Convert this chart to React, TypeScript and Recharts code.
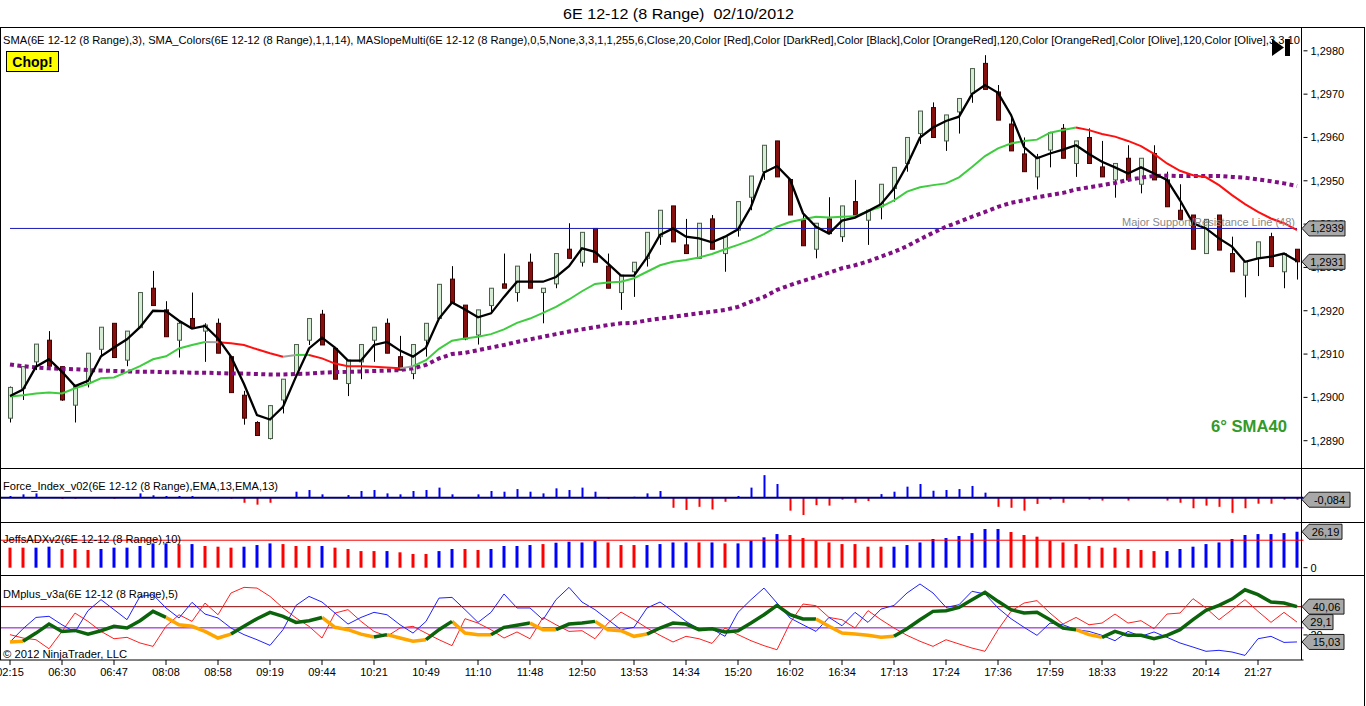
import React from 'react'
import { ComposedChart, Bar, Line, XAxis, YAxis, ReferenceLine, Cell } from 'recharts'

// ---- price bars (8 range, 6E 12-12) ----
const openPx = [
  1.28952, 1.29021, 1.29082, 1.29132, 1.29071, 1.28982, 1.29032, 1.29111, 1.29171, 1.29086,
  1.29161, 1.29252, 1.29202, 1.29132, 1.29182, 1.29153, 1.29171, 1.29094, 1.29005, 1.28942,
  1.28905, 1.28994, 1.29052, 1.29132, 1.29192, 1.29113, 1.29032, 1.29082, 1.29132, 1.29171,
  1.29094, 1.29055, 1.29132, 1.29182, 1.29273, 1.29213, 1.29144, 1.29212, 1.29262, 1.29242,
  1.29312, 1.29242, 1.29262, 1.29342, 1.29312, 1.2939, 1.29303, 1.29242, 1.2929, 1.29321,
  1.29371, 1.29442, 1.29352, 1.29321, 1.29412, 1.29332, 1.29386, 1.29462, 1.29521, 1.29592,
  1.29503, 1.29409, 1.29342, 1.29412, 1.29371, 1.29452, 1.29409, 1.2944, 1.29482, 1.2954,
  1.29609, 1.29669, 1.29592, 1.29659, 1.29702, 1.29771, 1.29705, 1.29631, 1.29562, 1.29509,
  1.29571, 1.29621, 1.2954, 1.296, 1.29532, 1.29502, 1.29552, 1.29492, 1.29563, 1.29502,
  1.29432, 1.29421, 1.29332, 1.29421, 1.29332, 1.29282, 1.29321, 1.29371, 1.2929, 1.29342,
]
const highPx = [
  1.29025, 1.29072, 1.29123, 1.29153, 1.29072, 1.29025, 1.29102, 1.29162, 1.29171, 1.29153,
  1.29242, 1.29292, 1.29222, 1.29175, 1.29242, 1.29171, 1.29182, 1.29094, 1.29015, 1.28945,
  1.28982, 1.29042, 1.29122, 1.29182, 1.29202, 1.29113, 1.29086, 1.29122, 1.29162, 1.29182,
  1.29142, 1.29122, 1.29171, 1.29261, 1.29303, 1.29213, 1.29202, 1.29252, 1.29332, 1.29303,
  1.29332, 1.29252, 1.29332, 1.29402, 1.29381, 1.2939, 1.29332, 1.29282, 1.29312, 1.29381,
  1.29432, 1.29442, 1.29412, 1.29402, 1.29421, 1.29371, 1.29452, 1.29511, 1.29582, 1.29592,
  1.29503, 1.29421, 1.29402, 1.29462, 1.29442, 1.29502, 1.29432, 1.29492, 1.29531, 1.296,
  1.29661, 1.29681, 1.29652, 1.2969, 1.29759, 1.2979, 1.29721, 1.29652, 1.296, 1.29562,
  1.29613, 1.29631, 1.29592, 1.29621, 1.29592, 1.2954, 1.29582, 1.29552, 1.29582, 1.29521,
  1.29492, 1.29421, 1.29411, 1.29421, 1.29371, 1.29313, 1.29359, 1.2938, 1.29332, 1.29342,
]
const lowPx = [
  1.28942, 1.28994, 1.29063, 1.29071, 1.28992, 1.28942, 1.29023, 1.29094, 1.29092, 1.29072,
  1.29161, 1.29212, 1.2914, 1.29092, 1.29159, 1.29082, 1.29102, 1.29011, 1.28937, 1.28911,
  1.28903, 1.28963, 1.29052, 1.29121, 1.29121, 1.29042, 1.29003, 1.29042, 1.29082, 1.29102,
  1.29063, 1.29042, 1.29094, 1.29182, 1.29217, 1.29132, 1.29122, 1.29194, 1.29252, 1.29221,
  1.29252, 1.29171, 1.29252, 1.29321, 1.29302, 1.29312, 1.29252, 1.29202, 1.29232, 1.29302,
  1.29352, 1.29359, 1.29332, 1.29321, 1.29342, 1.2929, 1.29371, 1.29432, 1.29502, 1.29509,
  1.29421, 1.2935, 1.29321, 1.29378, 1.29359, 1.29421, 1.29352, 1.29411, 1.29452, 1.29521,
  1.29585, 1.296, 1.29569, 1.29609, 1.2968, 1.29711, 1.2964, 1.29569, 1.29521, 1.2948,
  1.29531, 1.29552, 1.29509, 1.2954, 1.29509, 1.29461, 1.29502, 1.29471, 1.29502, 1.2944,
  1.29411, 1.29342, 1.29332, 1.2934, 1.2929, 1.29231, 1.2928, 1.29302, 1.29252, 1.29272,
]
const closePx = [
  1.29023, 1.29071, 1.29123, 1.29072, 1.28994, 1.29025, 1.29102, 1.29162, 1.29092, 1.29153,
  1.29242, 1.29212, 1.2914, 1.29171, 1.29159, 1.29167, 1.29102, 1.29011, 1.28952, 1.28912,
  1.28981, 1.29042, 1.29122, 1.29182, 1.29121, 1.29042, 1.29086, 1.29122, 1.29162, 1.29102,
  1.29063, 1.29122, 1.29171, 1.29261, 1.29219, 1.29135, 1.29202, 1.29252, 1.29252, 1.29303,
  1.29252, 1.29252, 1.29332, 1.29321, 1.29381, 1.29312, 1.29252, 1.29282, 1.29312, 1.29381,
  1.29432, 1.29359, 1.29332, 1.29402, 1.29342, 1.29371, 1.29452, 1.29511, 1.29582, 1.29509,
  1.29421, 1.2935, 1.29402, 1.29378, 1.29442, 1.29421, 1.29432, 1.29492, 1.29531, 1.296,
  1.29661, 1.296, 1.29652, 1.2969, 1.29759, 1.29711, 1.2964, 1.29569, 1.29521, 1.29555,
  1.29611, 1.29552, 1.29592, 1.2954, 1.29509, 1.2954, 1.29502, 1.29552, 1.29502, 1.2944,
  1.29411, 1.29342, 1.29411, 1.2934, 1.2929, 1.29313, 1.29359, 1.29302, 1.29332, 1.29313,
]

// ---- moving averages on the price panel ----
const sma3 = [
  1.29003, 1.29018, 1.29071, 1.29088, 1.29059, 1.29026, 1.29038, 1.29095, 1.29115, 1.29134,
  1.29162, 1.292, 1.29199, 1.29177, 1.29159, 1.29165, 1.29136, 1.29094, 1.29031, 1.28959,
  1.28949, 1.28978, 1.29048, 1.29113, 1.29138, 1.29115, 1.29085, 1.29085, 1.29121, 1.29128,
  1.29108, 1.29094, 1.29115, 1.29182, 1.29219, 1.29203, 1.29185, 1.29194, 1.29232, 1.29267,
  1.29267, 1.29267, 1.29278, 1.29303, 1.29344, 1.29336, 1.29309, 1.29281, 1.29281, 1.29323,
  1.29375, 1.2939, 1.29371, 1.29367, 1.29358, 1.29371, 1.29388, 1.2944, 1.29519, 1.29534,
  1.29503, 1.29425, 1.29394, 1.29378, 1.29408, 1.29415, 1.2943, 1.29446, 1.29482, 1.29536,
  1.296, 1.29623, 1.29638, 1.29648, 1.297, 1.29721, 1.29703, 1.29652, 1.29578, 1.29552,
  1.29563, 1.29572, 1.29582, 1.29562, 1.29544, 1.29531, 1.29517, 1.29531, 1.29517, 1.29502,
  1.29455, 1.29402, 1.2939, 1.29367, 1.29348, 1.29313, 1.29321, 1.29325, 1.29332, 1.29315,
]
const sma14 = [
  1.29002, 1.29005, 1.29009, 1.29011, 1.29009, 1.29021, 1.29031, 1.29044, 1.29046, 1.29059,
  1.29072, 1.29088, 1.29095, 1.29113, 1.29121, 1.29128, 1.29127, 1.29125, 1.29121, 1.29111,
  1.29102, 1.29094, 1.29098, 1.29098, 1.2909, 1.29078, 1.29072, 1.29072, 1.29071, 1.29069,
  1.29067, 1.29072, 1.29086, 1.29112, 1.29131, 1.29136, 1.2914, 1.29146, 1.29157, 1.29172,
  1.29182, 1.29195, 1.29209, 1.29226, 1.29245, 1.29262, 1.29265, 1.29267, 1.29275, 1.2929,
  1.29305, 1.29313, 1.29317, 1.29323, 1.29331, 1.29342, 1.29352, 1.29363, 1.29377, 1.29394,
  1.29405, 1.29411, 1.29417, 1.29415, 1.29417, 1.29418, 1.2943, 1.2944, 1.29455, 1.29475,
  1.29485, 1.2949, 1.29494, 1.29508, 1.29532, 1.29557, 1.29575, 1.29586, 1.29592, 1.29595,
  1.29611, 1.29617, 1.29623, 1.29617, 1.29608, 1.29602, 1.29592, 1.2958, 1.29562, 1.2954,
  1.29523, 1.29513, 1.29508, 1.2949, 1.29467, 1.29446, 1.29428, 1.29413, 1.29402, 1.29386,
]
// colour runs of the SMA14 line: g rising, r falling, n flat
const sma14Runs: [string, number][] = [['g', 16], ['n', 1], ['r', 5], ['n', 1], ['g', 1], ['r', 7], ['n', 1], ['g', 51], ['r', 17]]
const sma40 = [
  1.29076, 1.29072, 1.29069, 1.29067, 1.29066, 1.29065, 1.29063, 1.29062, 1.29061, 1.2906,
  1.29059, 1.29059, 1.29058, 1.29058, 1.29057, 1.29057, 1.29056, 1.29055, 1.29055, 1.29054,
  1.29053, 1.29053, 1.29054, 1.29055, 1.29057, 1.29058, 1.29059, 1.2906, 1.29061, 1.29062,
  1.29063, 1.29067, 1.29075, 1.2909, 1.291, 1.29103, 1.29109, 1.29115, 1.29121, 1.29128,
  1.29134, 1.2914, 1.29146, 1.29152, 1.29157, 1.29162, 1.29167, 1.29171, 1.29172, 1.29178,
  1.29182, 1.29186, 1.2919, 1.29194, 1.29198, 1.29202, 1.29209, 1.29221, 1.29232, 1.29248,
  1.29259, 1.29269, 1.29278, 1.29288, 1.29298, 1.29305, 1.29314, 1.29325, 1.29336, 1.29349,
  1.29365, 1.2938, 1.29394, 1.29405, 1.29417, 1.29428, 1.2944, 1.29449, 1.29455, 1.29462,
  1.29467, 1.29472, 1.2948, 1.29485, 1.2949, 1.29495, 1.29502, 1.29507, 1.29511, 1.29512,
  1.29511, 1.29511, 1.29511, 1.29511, 1.29509, 1.29507, 1.29503, 1.29499, 1.29494, 1.29488,
]
const supportLevel = 1.2939
const priceTicks = [1.289, 1.29, 1.291, 1.292, 1.293, 1.294, 1.295, 1.296, 1.297, 1.298]

// ---- Force_Index_v02 ----
const forceIdx = [
  0.07, 0.14, 0.18, 0.02, -0.05, -0.04, 0.01, 0.01, -0.04, 0.02,
  0.18, 0.1, 0.07, 0.07, 0.07, 0.02, 0.01, -0.04, -0.21, -0.29,
  -0.21, 0.01, 0.25, 0.32, 0.14, 0.02, 0.11, 0.28, 0.32, 0.18,
  0.14, 0.28, 0.32, 0.42, 0.14, 0.02, 0.14, 0.28, 0.25, 0.36,
  0.25, 0.18, 0.39, 0.32, 0.42, 0.25, -0.05, 0.01, 0.04, 0.18,
  0.28, -0.42, -0.51, -0.38, -0.49, -0.17, 0.07, 0.42, 0.94, 0.57,
  -0.54, -0.72, -0.31, -0.33, -0.08, -0.21, -0.14, 0.15, 0.25, 0.46,
  0.57, 0.29, 0.32, 0.36, 0.49, 0.21, -0.38, -0.42, -0.54, -0.26,
  -0.08, -0.21, -0.01, -0.08, -0.12, -0.01, -0.12, 0.005, -0.01, -0.12,
  -0.21, -0.44, -0.33, -0.38, -0.63, -0.44, -0.25, -0.25, -0.08, -0.084,
]

// ---- JeffsADXv2 ----
const adxVal = [
  14.6, 14.6, 14.6, 15.3, 13.6, 13.6, 12.9, 13.6, 14.6, 14.6,
  15.8, 17.7, 17.7, 17.0, 17.2, 15.8, 15.3, 14.6, 15.3, 16.5,
  17.7, 17.2, 15.8, 15.8, 15.8, 14.6, 13.6, 12.1, 12.1, 12.1,
  11.2, 10.0, 10.0, 12.1, 13.6, 13.6, 12.9, 13.6, 15.8, 15.8,
  16.5, 17.2, 18.2, 18.9, 18.4, 19.4, 18.4, 16.5, 16.5, 16.5,
  17.2, 18.4, 18.4, 18.4, 18.4, 17.7, 17.7, 19.7, 22.1, 24.5,
  23.8, 21.6, 19.7, 18.4, 17.2, 17.2, 15.3, 15.3, 15.3, 16.5,
  18.4, 20.9, 21.6, 23.1, 25.2, 28.2, 28.2, 26.0, 23.8, 22.6,
  19.7, 18.4, 17.2, 15.8, 14.6, 14.6, 13.6, 12.9, 12.1, 12.1,
  13.6, 15.3, 17.2, 18.4, 20.9, 23.8, 24.5, 24.5, 25.2, 26.19,
]
const adxRuns: [string, number][] = [
  ['r', 2], ['b', 2], ['r', 3], ['b', 6], ['r', 1], ['b', 1], ['r', 3], ['b', 3], ['r', 3], ['b', 1],
  ['r', 4], ['b', 1], ['r', 3], ['b', 2], ['r', 2], ['b', 4], ['r', 1], ['b', 4], ['r', 3], ['b', 4],
  ['r', 1], ['b', 1], ['r', 1], ['b', 4], ['r', 8], ['b', 9], ['r', 12], ['b', 11],
]

// ---- DMplus_v3a ----
const diPlus = [
  15.0, 24.4, 32.4, 33.2, 27.2, 22.1, 37.2, 45.0, 37.9, 30.8,
  47.3, 48.5, 39.1, 32.0, 43.1, 34.8, 32.0, 24.9, 20.2, 16.6,
  12.6, 23.7, 40.9, 47.3, 43.3, 35.5, 27.7, 32.4, 36.0, 34.3,
  27.2, 21.3, 29.6, 46.1, 46.6, 37.9, 28.9, 36.0, 49.0, 39.1,
  39.1, 30.8, 45.0, 53.7, 43.3, 37.9, 30.8, 23.7, 25.4, 39.1,
  43.3, 36.7, 29.6, 24.2, 24.2, 19.0, 36.0, 45.0, 53.2, 42.6,
  32.0, 27.2, 22.5, 32.4, 26.5, 36.0, 28.9, 38.3, 40.9, 49.7,
  56.1, 49.7, 39.5, 41.4, 50.9, 49.0, 39.1, 31.5, 25.4, 19.7,
  28.4, 27.2, 23.7, 22.5, 19.7, 15.9, 22.5, 19.0, 22.1, 18.3,
  14.3, 11.4, 8.4, 9.1, 7.9, 5.5, 17.3, 19.0, 14.7, 15.03,
]
const diMinus = [
  20.2, 17.8, 16.6, 10.2, 22.5, 35.5, 29.6, 22.5, 17.3, 18.3,
  14.3, 11.9, 26.1, 34.3, 29.6, 42.6, 34.3, 49.7, 53.7, 53.2,
  47.3, 39.1, 32.0, 26.1, 17.8, 35.5, 37.9, 29.6, 22.5, 19.0,
  24.9, 26.1, 21.3, 16.6, 12.4, 31.5, 28.4, 23.7, 17.8, 22.1,
  17.3, 32.4, 27.2, 22.5, 23.0, 17.3, 28.4, 36.2, 30.8, 24.9,
  19.7, 15.0, 19.0, 17.3, 14.0, 24.9, 20.2, 15.9, 12.4, 9.5,
  28.4, 41.9, 40.7, 32.4, 30.8, 24.9, 37.2, 30.8, 24.9, 19.7,
  15.5, 11.9, 16.6, 13.6, 10.7, 8.4, 23.7, 36.7, 42.6, 44.3,
  35.5, 27.7, 32.4, 27.2, 28.4, 34.8, 28.4, 30.1, 24.4, 34.8,
  35.5, 45.7, 39.1, 30.8, 37.9, 45.0, 36.7, 28.9, 36.0, 29.1,
]
const dmLine = [
  15.0, 15.5, 21.3, 27.7, 22.5, 23.2, 20.6, 23.0, 26.1, 24.9,
  30.1, 36.7, 32.4, 27.2, 26.1, 22.5, 17.8, 20.6, 26.1, 31.5,
  36.0, 33.2, 28.9, 30.1, 32.4, 25.4, 23.7, 20.6, 18.5, 20.2,
  17.8, 15.5, 16.6, 23.7, 29.6, 21.3, 20.2, 20.2, 25.4, 26.8,
  28.4, 23.7, 23.7, 27.7, 28.4, 29.6, 23.7, 23.0, 19.0, 20.6,
  24.9, 28.4, 27.7, 23.7, 24.4, 22.1, 23.0, 28.4, 34.3, 40.9,
  34.3, 31.3, 31.3, 26.1, 21.3, 20.6, 19.7, 18.3, 19.0, 24.4,
  30.8, 36.7, 37.2, 39.5, 45.0, 50.2, 43.8, 37.9, 35.5, 36.0,
  30.8, 24.9, 23.7, 20.2, 18.3, 22.5, 19.7, 19.7, 17.3, 19.7,
  23.7, 30.8, 37.4, 40.9, 45.4, 52.0, 48.5, 43.3, 42.6, 40.06,
]
const dmRuns: [string, number][] = [
  ['o', 2], ['g', 11], ['o', 5], ['g', 7], ['o', 4], ['g', 1], ['o', 3], ['g', 2], ['o', 3], ['g', 3],
  ['o', 2], ['g', 3], ['o', 4], ['g', 13], ['o', 6], ['g', 14], ['o', 2], ['g', 15],
]

// ---- time axis ----
const tickBars = [0, 4, 8, 12, 16, 20, 24, 28, 32, 36, 40, 44, 48, 52, 56, 60, 64, 68, 72, 76, 80, 84, 88, 92, 96]
const tickTimes = [
  '02:15', '06:30', '06:47', '08:08', '08:58', '09:19', '09:44', '10:21', '10:49', '11:10', '11:48', '12:50', '13:53',
  '14:34', '15:20', '16:02', '16:34', '17:13', '17:24', '17:36', '17:59', '18:33', '19:22', '20:14', '21:27',
]

const FONT = 'Arial, "Liberation Sans", sans-serif'
const AXIS_W = 62.5
const PAD = { left: 3.5, right: 0 }
const NOMARGIN = { top: 0, right: 0, bottom: 0, left: 0 }

const PRICE_DOMAIN: [number, number] = [1.28837, 1.29855]
const FORCE_DOMAIN: [number, number] = [-1.0125, 1.2375]
const ADX_DOMAIN: [number, number] = [-5.32, 33.28]
const DM_DOMAIN: [number, number] = [2.24, 62.46]

function expand(runs: [string, number][]) {
  const out: string[] = []
  runs.forEach(([c, n]) => {
    for (let k = 0; k < n; k++) out.push(c)
  })
  return out
}

// tone[k] is the colour of the segment k-1 -> k; alternate runs of one colour go to
// separate series so neighbouring runs never get joined by a wrong-coloured stroke
function splitSegments(vals: number[], tone: string[]) {
  const series: Record<string, (number | null)[]> = {}
  const runNo: Record<string, number> = {}
  for (let k = 1; k < vals.length; k++) {
    const c = tone[k]
    if (k === 1 || tone[k] !== tone[k - 1]) runNo[c] = (runNo[c] ?? -1) + 1
    const key = c + (runNo[c] % 2)
    if (!series[key]) series[key] = vals.map(() => null)
    series[key][k - 1] = vals[k - 1]
    series[key][k] = vals[k]
  }
  return series
}

const smaSeries = splitSegments(sma14, expand(sma14Runs))
const dmSeries = splitSegments(dmLine, expand(dmRuns))
const adxTone = expand(adxRuns)

const smaColour: Record<string, string> = { g: '#3fcd3f', r: '#ff1010', n: '#a0a0a0' }
const dmColour: Record<string, string> = { g: '#0b640b', o: '#ffa500' }

const rows = openPx.map((o, i) => {
  const row: Record<string, any> = {
    idx: i,
    range: [lowPx[i], highPx[i]],
    open: o,
    high: highPx[i],
    low: lowPx[i],
    close: closePx[i],
    sma3: sma3[i],
    sma40: sma40[i],
    force: forceIdx[i],
    adx: adxVal[i],
    diPlus: diPlus[i],
    diMinus: diMinus[i],
  }
  Object.keys(smaSeries).forEach((k) => (row[`s14_${k}`] = smaSeries[k][i]))
  Object.keys(dmSeries).forEach((k) => (row[`dm_${k}`] = dmSeries[k][i]))
  return row
})

const last = rows.length - 1
const comma = (s: string) => s.replace('.', ',')

function Candle(props: any) {
  const { x, y, width, height, payload } = props
  if (!payload || height == null) return null
  const { open, high, low, close } = payload
  const span = high - low || 1e-9
  const at = (v: number) => y + ((high - v) / span) * height
  const cx = Math.round(x + width / 2) + 0.5
  const up = close >= open
  const top = at(Math.max(open, close))
  const bot = at(Math.min(open, close))
  return (
    <g>
      <line x1={cx} x2={cx} y1={y} y2={y + height} stroke="#000" strokeWidth={1} />
      <rect
        x={cx - 2}
        y={top}
        width={4}
        height={Math.max(bot - top, 1)}
        fill={up ? '#d6ecd4' : '#85100e'}
        stroke={up ? '#4c5f4c' : '#420000'}
        strokeWidth={1}
      />
    </g>
  )
}

function Tag(props: any) {
  const { viewBox, text, w } = props
  if (!viewBox) return null
  const tip = viewBox.x + viewBox.width - 1.5
  const cy = viewBox.y
  const h = 15
  const body = tip + 7
  return (
    <g>
      <polygon
        points={`${tip},${cy} ${body},${cy - h / 2} ${body + w},${cy - h / 2} ${body + w},${cy + h / 2} ${body},${cy + h / 2}`}
        fill="#a8a8a8"
        stroke="#1c1c1c"
        strokeWidth={1}
      />
      <text x={body + w / 2} y={cy + 4} textAnchor="middle" fontSize={11} fill="#000" fontFamily={FONT}>
        {text}
      </text>
    </g>
  )
}

type TagSpec = { y: number; text: string; w: number }

// value tags sit on top of the axis labels, so they get their own chart layer above each panel
function TagLayer({ top, height, domain, tags }: { top: number; height: number; domain: [number, number]; tags: TagSpec[] }) {
  return (
    <div style={{ position: 'absolute', left: 0, top }}>
      <ComposedChart width={1366} height={height} data={rows} margin={NOMARGIN}>
        <XAxis dataKey="idx" type="category" scale="band" hide padding={PAD} />
        <YAxis orientation="right" type="number" width={AXIS_W} domain={domain} allowDataOverflow tick={false} tickLine={false} axisLine={false} />
        {tags.map((t, i) => (
          <ReferenceLine key={i} y={t.y} stroke="none" label={<Tag text={t.text} w={t.w} />} />
        ))}
      </ComposedChart>
    </div>
  )
}

const tickStyle = { fontSize: 11, fill: '#000' }

function hiddenX() {
  return <XAxis dataKey="idx" type="category" scale="band" hide padding={PAD} />
}

export default function App() {
  return (
    <div
      style={{
        position: 'absolute',
        left: 0,
        top: 0,
        width: 1366,
        height: 706,
        background: '#fff',
        fontFamily: FONT,
        overflow: 'hidden',
      }}
    >
      {/* price panel */}
      <div style={{ position: 'absolute', left: 0, top: 27 }}>
        <ComposedChart width={1366} height={441} data={rows} margin={NOMARGIN}>
          {hiddenX()}
          <YAxis
            orientation="right"
            type="number"
            width={AXIS_W}
            domain={PRICE_DOMAIN}
            allowDataOverflow
            ticks={priceTicks}
            interval={0}
            tickFormatter={(v: number) => comma(v.toFixed(4))}
            tick={tickStyle}
            tickLine={{ stroke: '#000' }}
            tickSize={4}
            tickMargin={3}
            axisLine={false}
          />
          <ReferenceLine
            segment={[{ x: 0, y: supportLevel }, { x: last, y: supportLevel }]}
            stroke="#1a1ab8"
            strokeWidth={1}
            label={{ value: 'Major Support/Resistance Line (48)', position: 'insideBottomRight', offset: 2, fill: '#8a8a8a', fontSize: 11 }}
          />
          <Bar dataKey="range" barSize={5} isAnimationActive={false} shape={(p: any) => <Candle {...p} />} />
          <Line dataKey="sma40" stroke="#7f0f83" strokeWidth={4} strokeDasharray="4 3.4" dot={false} activeDot={false} isAnimationActive={false} />
          {Object.keys(smaSeries).map((k) => (
            <Line key={k} dataKey={`s14_${k}`} stroke={smaColour[k[0]]} strokeWidth={2} dot={false} activeDot={false} isAnimationActive={false} />
          ))}
          <Line dataKey="sma3" stroke="#000" strokeWidth={2.3} dot={false} activeDot={false} isAnimationActive={false} />
        </ComposedChart>
      </div>
      <TagLayer
        top={27}
        height={441}
        domain={PRICE_DOMAIN}
        tags={[
          { y: supportLevel, text: comma(supportLevel.toFixed(4)), w: 36 },
          { y: closePx[last], text: comma(closePx[last].toFixed(4)), w: 36 },
        ]}
      />

      {/* force index panel */}
      <div style={{ position: 'absolute', left: 0, top: 468 }}>
        <ComposedChart width={1366} height={54} data={rows} margin={NOMARGIN}>
          {hiddenX()}
          <YAxis orientation="right" type="number" width={AXIS_W} domain={FORCE_DOMAIN} allowDataOverflow tick={false} tickLine={false} axisLine={false} />
          <Bar dataKey="force" barSize={2} isAnimationActive={false}>
            {rows.map((r, i) => (
              <Cell key={i} fill={r.force >= 0 ? '#0000ff' : '#ff0000'} />
            ))}
          </Bar>
          <ReferenceLine y={0} stroke="#00007a" strokeWidth={2} />
        </ComposedChart>
      </div>
      <TagLayer top={468} height={54} domain={FORCE_DOMAIN} tags={[{ y: forceIdx[last], text: comma(String(forceIdx[last])), w: 41 }]} />

      {/* ADX panel */}
      <div style={{ position: 'absolute', left: 0, top: 522 }}>
        <ComposedChart width={1366} height={53} data={rows} margin={NOMARGIN}>
          {hiddenX()}
          <YAxis
            orientation="right"
            type="number"
            width={AXIS_W}
            domain={ADX_DOMAIN}
            allowDataOverflow
            ticks={[0]}
            interval={0}
            tick={tickStyle}
            tickLine={{ stroke: '#000' }}
            tickSize={4}
            tickMargin={3}
            axisLine={false}
          />
          <Bar dataKey="adx" barSize={3} isAnimationActive={false}>
            {rows.map((r, i) => (
              <Cell key={i} fill={adxTone[i] === 'b' ? '#0000ff' : '#ff0000'} />
            ))}
          </Bar>
          <ReferenceLine y={20} stroke="#ff0000" strokeWidth={1} />
        </ComposedChart>
      </div>
      <TagLayer top={522} height={53} domain={ADX_DOMAIN} tags={[{ y: adxVal[last], text: comma(String(adxVal[last])), w: 33 }]} />

      {/* DMplus panel with time axis */}
      <div style={{ position: 'absolute', left: 0, top: 575 }}>
        <ComposedChart width={1366} height={115} data={rows} margin={NOMARGIN}>
          <XAxis
            dataKey="idx"
            type="category"
            scale="band"
            padding={PAD}
            height={30}
            ticks={tickBars}
            interval={0}
            tickFormatter={(v: number) => tickTimes[tickBars.indexOf(v)] ?? ''}
            tick={tickStyle}
            tickLine={{ stroke: '#000' }}
            axisLine={{ stroke: '#000' }}
            tickSize={5}
            tickMargin={3}
          />
          <YAxis
            orientation="right"
            type="number"
            width={AXIS_W}
            domain={DM_DOMAIN}
            allowDataOverflow
            ticks={[20]}
            interval={0}
            tick={tickStyle}
            tickLine={{ stroke: '#000' }}
            tickSize={4}
            tickMargin={3}
            axisLine={false}
          />
          <ReferenceLine y={40} stroke="#8b0000" strokeWidth={1} />
          <ReferenceLine y={25} stroke="#8a00c8" strokeWidth={1} />
          <Line dataKey="diMinus" stroke="#ff2020" strokeWidth={1} dot={false} activeDot={false} isAnimationActive={false} />
          <Line dataKey="diPlus" stroke="#2020ff" strokeWidth={1} dot={false} activeDot={false} isAnimationActive={false} />
          {Object.keys(dmSeries).map((k) => (
            <Line key={k} dataKey={`dm_${k}`} stroke={dmColour[k[0]]} strokeWidth={3.5} dot={false} activeDot={false} isAnimationActive={false} />
          ))}
        </ComposedChart>
      </div>
      <TagLayer
        top={575}
        height={85}
        domain={DM_DOMAIN}
        tags={[
          { y: dmLine[last], text: comma(String(dmLine[last])), w: 35 },
          { y: diMinus[last], text: comma(String(diMinus[last])), w: 24 },
          { y: diPlus[last], text: comma(String(diPlus[last])), w: 35 },
        ]}
      />

      {/* frame, titles and panel captions */}
      <svg width={1366} height={706} style={{ position: 'absolute', left: 0, top: 0, pointerEvents: 'none' }} fontFamily={FONT}>
        <g stroke="#000" strokeWidth={1} shapeRendering="crispEdges">
          <line x1={0} y1={27.5} x2={1365} y2={27.5} />
          <line x1={0.5} y1={27} x2={0.5} y2={660} />
          <line x1={1301.5} y1={27} x2={1301.5} y2={660} />
          <line x1={1364.5} y1={27} x2={1364.5} y2={706} />
          <line x1={0} y1={468.5} x2={1365} y2={468.5} />
          <line x1={0} y1={522.5} x2={1365} y2={522.5} />
          <line x1={0} y1={575.5} x2={1365} y2={575.5} />
        </g>
        <text x={563} y={19} fontSize={15} textLength={231} lengthAdjust="spacingAndGlyphs" style={{ whiteSpace: 'pre' }}>
          {'6E 12-12 (8 Range)  02/10/2012'}
        </text>
        <text x={3} y={44} fontSize={10.5} textLength={1297} lengthAdjust="spacingAndGlyphs">
          SMA(6E 12-12 (8 Range),3), SMA_Colors(6E 12-12 (8 Range),1,1,14), MASlopeMulti(6E 12-12 (8 Range),0,5,None,3,3,1,1,255,6,Close,20,Color [Red],Color [DarkRed],Color [Black],Color [OrangeRed],120,Color [OrangeRed],Color [Olive],120,Color [Olive],3,3,10
        </text>
        <rect x={6.5} y={51.5} width={52} height={20} fill="#ffff00" stroke="#000" strokeWidth={1} />
        <text x={32.5} y={66.5} fontSize={14} fontWeight="bold" textAnchor="middle">
          Chop!
        </text>
        <polygon points="1272,39 1284,47.5 1272,56" fill="#000" />
        <rect x={1285} y={39} width={5} height={17} fill="#000" />
        <text x={1211} y={432} fontSize={16} fontWeight="bold" fill="#339a2a" textLength={76} lengthAdjust="spacingAndGlyphs">
          6° SMA40
        </text>
        <text x={3} y={490} fontSize={11} textLength={275} lengthAdjust="spacingAndGlyphs">
          Force_Index_v02(6E 12-12 (8 Range),EMA,13,EMA,13)
        </text>
        <text x={3} y={543} fontSize={11} textLength={178} lengthAdjust="spacingAndGlyphs">
          JeffsADXv2(6E 12-12 (8 Range),10)
        </text>
        <text x={3} y={598} fontSize={11} textLength={175} lengthAdjust="spacingAndGlyphs">
          DMplus_v3a(6E 12-12 (8 Range),5)
        </text>
        <text x={3} y={658} fontSize={11} textLength={124} lengthAdjust="spacingAndGlyphs">
          © 2012 NinjaTrader, LLC
        </text>
      </svg>
    </div>
  )
}
